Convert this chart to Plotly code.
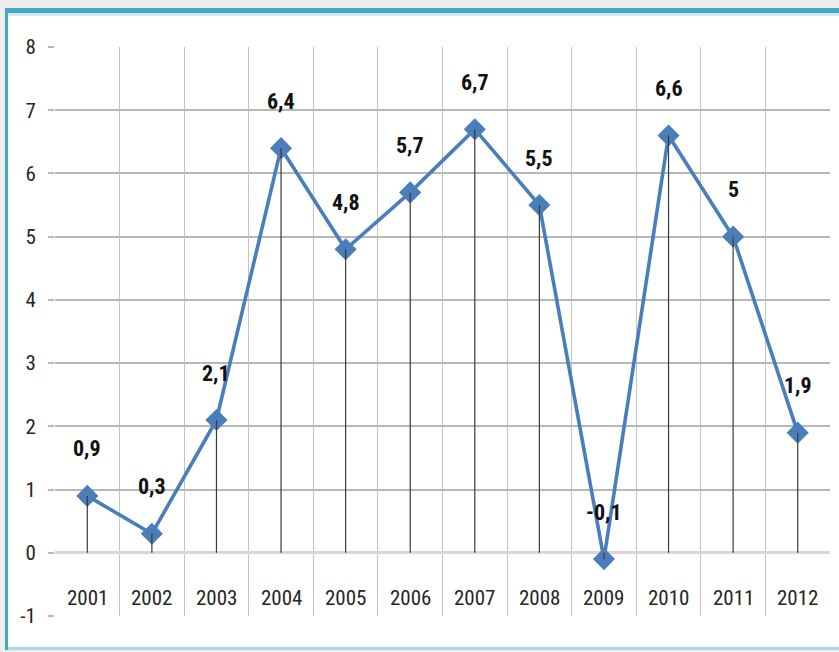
import plotly.graph_objects as go

years = ["2001", "2002", "2003", "2004", "2005", "2006", "2007", "2008", "2009", "2010", "2011", "2012"]
values = [0.9, 0.3, 2.1, 6.4, 4.8, 5.7, 6.7, 5.5, -0.1, 6.6, 5.0, 1.9]
value_labels = ["0,9", "0,3", "2,1", "6,4", "4,8", "5,7", "6,7", "5,5", "-0,1", "6,6", "5", "1,9"]
y_ticks = [-1, 0, 1, 2, 3, 4, 5, 6, 7, 8]

FONT = "Roboto Condensed, Liberation Sans Narrow, Arial Narrow, sans-serif"
W, H = 839, 652
ML, MR, MT, MB = 55, 9, 47, 36
PW, PH = W - ML - MR, H - MT - MB

def px_x(p):
    return (p - ML) / PW

def px_y(p):
    return (H - MB - p) / PH

n = len(years)
xs = list(range(1, n + 1))

fig = go.Figure()

fig.add_trace(go.Scatter(
    x=xs, y=values, mode="lines+markers",
    line=dict(color="#4a7ebb", width=3.6),
    marker=dict(symbol="diamond", size=17, color="#4a7ebb"),
    showlegend=False,
))

# drop lines from points to zero (drawn over markers as in the reference)
fig.add_trace(go.Scatter(
    x=xs, y=values, mode="markers",
    marker=dict(size=1, color="rgba(0,0,0,0)"),
    error_y=dict(type="data", symmetric=False,
                 array=[max(0, -v) for v in values],
                 arrayminus=[max(0, v) for v in values],
                 color="#3a3a3a", thickness=1.2, width=0),
    hoverinfo="skip", showlegend=False,
))

annotations = []
for x, v, t in zip(xs, values, value_labels):
    annotations.append(dict(x=x, y=v, text="<b>%s</b>" % t, showarrow=False,
                            yshift=47, font=dict(family=FONT, size=22, color="#111111")))
for x, yr in zip(xs, years):
    annotations.append(dict(x=x, y=-0.72, text=yr, showarrow=False,
                            font=dict(family=FONT, size=21, color="#262626")))

shapes = [
    dict(type="rect", xref="paper", yref="paper", x0=px_x(8), x1=px_x(W + 5), y0=px_y(648), y1=px_y(13),
         fillcolor="white", line=dict(width=0), layer="below"),
    dict(type="rect", xref="paper", yref="paper", x0=px_x(5), x1=px_x(W + 5), y0=px_y(13), y1=px_y(8),
         fillcolor="#46a9c4", line=dict(width=0), layer="below"),
    dict(type="rect", xref="paper", yref="paper", x0=px_x(5), x1=px_x(W + 5), y0=px_y(16), y1=px_y(13),
         fillcolor="#cfeaf1", line=dict(width=0), layer="below"),
    dict(type="rect", xref="paper", yref="paper", x0=px_x(5), x1=px_x(8), y0=px_y(650), y1=px_y(8),
         fillcolor="#46a9c4", line=dict(width=0), layer="below"),
    dict(type="rect", xref="paper", yref="paper", x0=px_x(8), x1=px_x(W + 5), y0=px_y(650), y1=px_y(647),
         fillcolor="#a9d9e6", line=dict(width=0), layer="below"),
]

fig.update_layout(
    width=W, height=H,
    margin=dict(l=ML, r=MR, t=MT, b=MB),
    paper_bgcolor="#eeeeee",
    plot_bgcolor="white",
    annotations=annotations,
    shapes=shapes,
    xaxis=dict(range=[0.5, n + 0.5], tickvals=[i + 0.5 for i in range(n + 1)],
               showticklabels=False, showgrid=True, gridcolor="#c4c4c4", gridwidth=1,
               zeroline=False, showline=False, ticks=""),
    yaxis=dict(range=[-1, 8], tickvals=y_ticks, ticktext=[str(v) for v in y_ticks],
               showgrid=True, gridcolor="#b8b8b8", gridwidth=2,
               zeroline=True, zerolinecolor="#d6d6d6", zerolinewidth=3,
               ticks="outside", ticklen=6, tickcolor="#b8b8b8", tickwidth=2,
               ticklabelstandoff=8,
               tickfont=dict(family=FONT, size=21, color="#262626"), showline=False),
)

fig.write_html("out.html", config={"displayModeBar": False},
               post_script="document.body.style.margin='0';document.body.style.background='#eeeeee';")
